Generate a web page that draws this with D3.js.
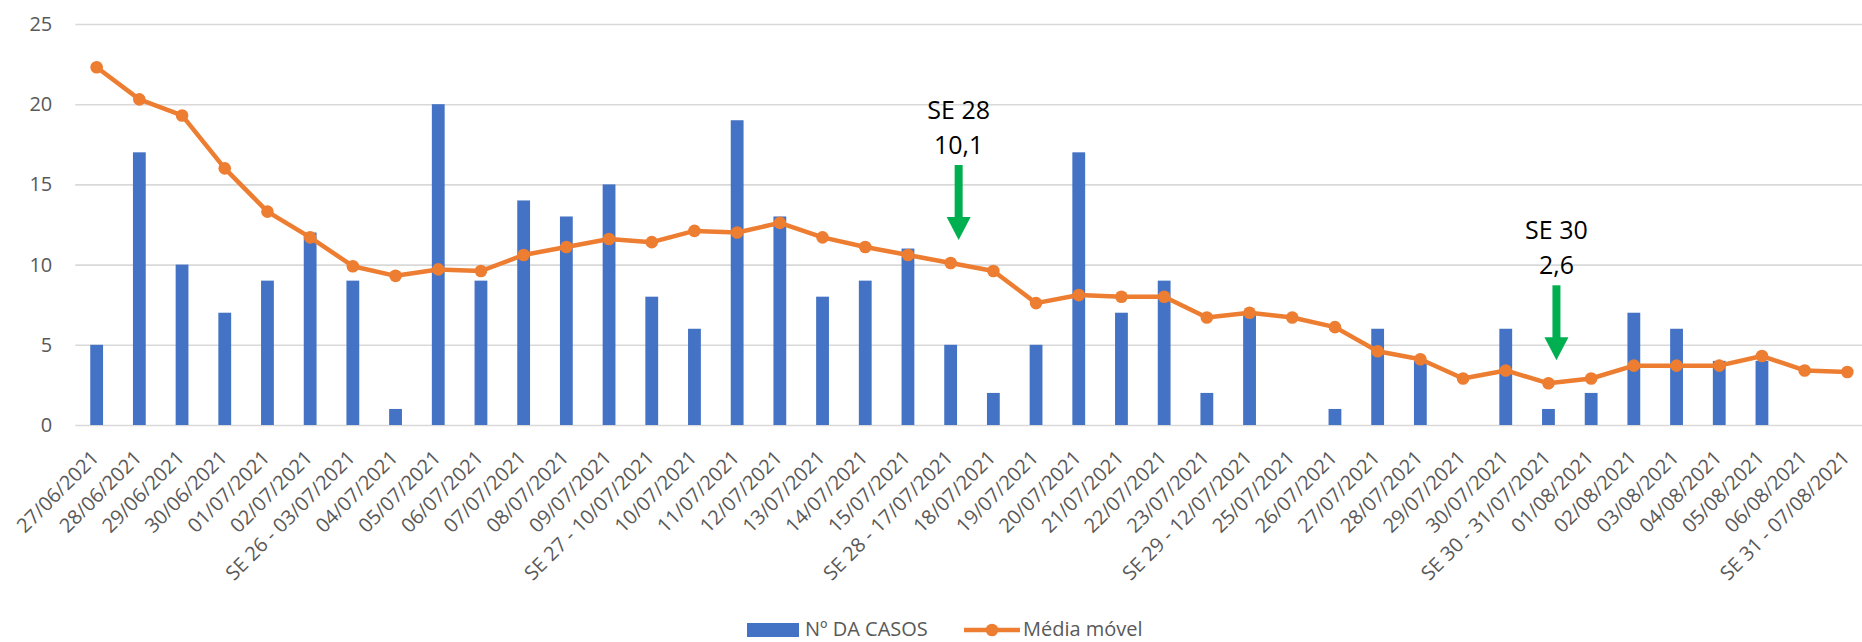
<!DOCTYPE html>
<html>
<head>
<meta charset="utf-8">
<script src="https://cdn.jsdelivr.net/npm/d3@7"></script>
<style>
    body { margin: 0; background: white; }
    text { font-family: 'Open Sans', sans-serif; }
</style>
</head>
<body>
<svg id="canvas" width="1862" height="642"></svg>
<script>

// categories (dates + epidemiological week)
let labels = ["27/06/2021", "28/06/2021", "29/06/2021", "30/06/2021", "01/07/2021",
    "02/07/2021", "SE 26 - 03/07/2021", "04/07/2021", "05/07/2021", "06/07/2021",
    "07/07/2021", "08/07/2021", "09/07/2021", "SE 27 - 10/07/2021", "10/07/2021",
    "11/07/2021", "12/07/2021", "13/07/2021", "14/07/2021", "15/07/2021",
    "SE 28 - 17/07/2021", "18/07/2021", "19/07/2021", "20/07/2021", "21/07/2021",
    "22/07/2021", "23/07/2021", "SE 29 - 12/07/2021", "25/07/2021", "26/07/2021",
    "27/07/2021", "28/07/2021", "29/07/2021", "30/07/2021", "SE 30 - 31/07/2021",
    "01/08/2021", "02/08/2021", "03/08/2021", "04/08/2021", "05/08/2021",
    "06/08/2021", "SE 31 - 07/08/2021"];

// Nº DA CASOS
let casos = [5, 17, 10, 7, 9, 12, 9, 1, 20, 9,
    14, 13, 15, 8, 6, 19, 13, 8, 9, 11,
    5, 2, 5, 17, 7, 9, 2, 7, 0, 1,
    6, 4, 0, 6, 1, 2, 7, 6, 4, 4,
    0, 0];

// Média móvel
let mediaMovel = [22.3, 20.3, 19.3, 16.0, 13.3, 11.7, 9.9, 9.3, 9.7, 9.6,
    10.6, 11.1, 11.6, 11.4, 12.1, 12.0, 12.6, 11.7, 11.1, 10.6,
    10.1, 9.6, 7.6, 8.1, 8.0, 8.0, 6.7, 7.0, 6.7, 6.1,
    4.6, 4.1, 2.9, 3.4, 2.6, 2.9, 3.7, 3.7, 3.7, 4.3,
    3.4, 3.3];

let yTicks = [0, 5, 10, 15, 20, 25];

// the two green arrows
let notes = [
    {label: "SE 28 - 17/07/2021", title: "SE 28", text: "10,1"},
    {label: "SE 30 - 31/07/2021", title: "SE 30", text: "2,6"}
];

const blue = '#4472c4';
const orange = '#ed7d31';
const green = '#00b050';
const grey = '#595959';

const plotLeft = 75.3;
const step = 42.7;
const plotTop = 24;
const plotBottom = 425;

let svg = d3.select('#canvas');

let x = d3.scaleBand()
    .domain(labels)
    .range([plotLeft, plotLeft + step * labels.length]);

let y = d3.scaleLinear()
    .domain([0, 25])
    .range([plotBottom, plotTop]);

let cx = d => x(d) + x.bandwidth() / 2;

//gridlines + y labels
let yAxis = svg.append('g')
    .attr('transform', `translate(${plotLeft},0)`)
    .call(d3.axisLeft(y)
        .tickValues(yTicks)
        .tickSize(-(x.range()[1] - plotLeft))
        .tickPadding(23));
yAxis.select('.domain').remove();
yAxis.selectAll('line').attr('stroke', '#d9d9d9').attr('stroke-width', 1.6);
yAxis.selectAll('text')
    .attr('fill', grey)
    .style('font-size', '20px');

//x labels, rotated
let xAxis = svg.append('g')
    .attr('transform', `translate(0,${plotBottom})`)
    .call(d3.axisBottom(x).tickSize(0));
xAxis.select('.domain').remove();
xAxis.selectAll('text')
    .attr('y', 0)
    .attr('dy', 0)
    .attr('fill', grey)
    .attr('text-anchor', 'end')
    .attr('transform', 'translate(3.5,34) rotate(-45)')
    .style('font-size', '20px');

//bars
let barWidth = x.bandwidth() * 0.3;
svg.append('g')
    .selectAll('rect')
    .data(casos)
    .join('rect')
    .attr('x', (d, i) => cx(labels[i]) - barWidth / 2)
    .attr('y', d => y(d))
    .attr('width', barWidth)
    .attr('height', d => plotBottom - y(d))
    .attr('fill', blue);

//moving average line + markers
let line = d3.line()
    .x((d, i) => cx(labels[i]))
    .y(d => y(d));

svg.append('path')
    .datum(mediaMovel)
    .attr('d', line)
    .attr('fill', 'none')
    .attr('stroke', orange)
    .attr('stroke-width', 4.5)
    .attr('stroke-linejoin', 'round');

svg.append('g')
    .selectAll('circle')
    .data(mediaMovel)
    .join('circle')
    .attr('cx', (d, i) => cx(labels[i]))
    .attr('cy', d => y(d))
    .attr('r', 6.3)
    .attr('fill', orange);

//annotations: text + arrow above the point
let noteGroups = svg.append('g')
    .selectAll('g')
    .data(notes)
    .join('g')
    .attr('transform', d => {
        let i = labels.indexOf(d.label);
        return `translate(${cx(d.label) + 8},${y(mediaMovel[i]) - 23})`;
    });

noteGroups.append('rect')
    .attr('x', -4)
    .attr('y', -75)
    .attr('width', 8)
    .attr('height', 53);

noteGroups.append('path')
    .attr('d', 'M-12,-23 L12,-23 L0,0 Z');

noteGroups.selectAll('rect, path').attr('fill', green);

noteGroups.append('text')
    .attr('y', -121)
    .attr('text-anchor', 'middle')
    .style('font-size', '25px')
    .attr('fill', 'black')
    .text(d => d.title);

noteGroups.append('text')
    .attr('y', -86)
    .attr('text-anchor', 'middle')
    .style('font-size', '25px')
    .attr('fill', 'black')
    .text(d => d.text);

//legend
let legend = svg.append('g');
legend.append('rect')
    .attr('x', 747).attr('y', 623)
    .attr('width', 52).attr('height', 14)
    .attr('fill', blue);
legend.append('text')
    .attr('x', 805).attr('y', 636)
    .attr('fill', grey)
    .style('font-size', '20px')
    .text('Nº DA CASOS');
legend.append('line')
    .attr('x1', 964).attr('x2', 1020)
    .attr('y1', 630).attr('y2', 630)
    .attr('stroke', orange)
    .attr('stroke-width', 4.5);
legend.append('circle')
    .attr('cx', 992).attr('cy', 630)
    .attr('r', 6.3)
    .attr('fill', orange);
legend.append('text')
    .attr('x', 1023).attr('y', 636)
    .attr('fill', grey)
    .style('font-size', '20px')
    .text('Média móvel');

</script>
</body>
</html>
